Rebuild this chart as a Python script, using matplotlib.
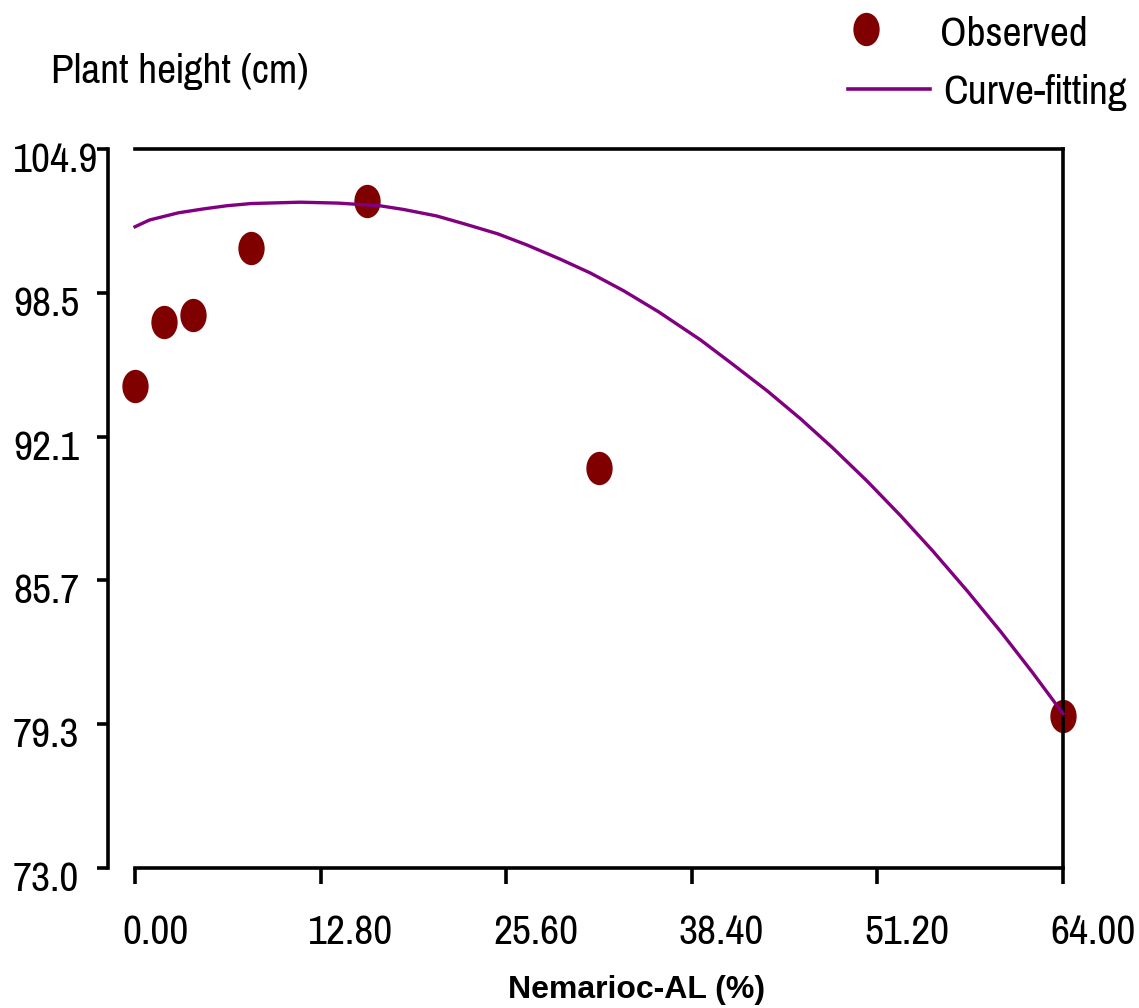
import matplotlib
matplotlib.use("Agg")
import matplotlib.pyplot as plt
import matplotlib.transforms as mtransforms
from matplotlib.path import Path
from matplotlib.lines import Line2D
import numpy as np

# observed plant height at each Nemarioc-AL concentration
conc = [0, 2, 4, 8, 16, 32, 64]
height = [94.37, 97.21, 97.52, 100.52, 102.58, 90.75, 79.73]

# fitted curve, read at a set of concentrations
fit_x = [0, 1.0, 3.0, 4.7, 6.3, 8.0, 11.4, 14.0, 16.9, 18.5, 20.8, 22.6, 25.0, 27.0,
         29.3, 31.4, 33.7, 36.1, 39.0, 41.2, 43.6, 45.9, 48.1, 50.5, 52.8, 55.0,
         57.4, 59.7, 61.9, 64.0]
fit_y = [101.45, 101.75, 102.07, 102.24, 102.38, 102.48, 102.54, 102.5, 102.38, 102.22,
         101.93, 101.6, 101.14, 100.65, 100.02, 99.4, 98.61, 97.68, 96.43, 95.36,
         94.17, 92.93, 91.65, 90.16, 88.63, 87.08, 85.29, 83.49, 81.67, 79.85]

xticks = [0.0, 12.8, 25.6, 38.4, 51.2, 64.0]
xtick_labels = ["0.00", "12.80", "25.60", "38.40", "51.20", "64.00"]
ytick_labels = ["73.0", "79.3", "85.7", "92.1", "98.5", "104.9"]
ymin, ymax = 73.0, 104.9

W, H = 1139, 1008
narrow = ["Arial Narrow", "Liberation Sans Narrow", "Pragati Narrow", "Archivo Narrow",
          "Roboto Condensed", "PT Sans Narrow", "DejaVu Sans"]
bold_font = ["Arial", "Liberation Sans", "Arimo", "DejaVu Sans"]
fs = 32.5
dot_color = "#800000"
line_color = "#800080"

fig = plt.figure(figsize=(W / 100, H / 100), dpi=100)
ax = fig.add_axes([135 / W, 1 - 868 / H, 928 / W, 719 / H])

# slightly tall elliptical dot
circ = Path.unit_circle()
ell = Path(circ.vertices * np.array([0.78, 1.0]), circ.codes)

ax.plot(conc, height, linestyle="none", marker=ell, markersize=23,
        color=dot_color, clip_on=False, zorder=2)
ax.plot(fit_x, fit_y, color=line_color, lw=2.4, clip_on=False, zorder=3)

ax.set_xlim(0, 64)
ax.set_ylim(ymin, ymax)

for s in ax.spines.values():
    s.set_linewidth(2.6)
ax.spines["left"].set_position(("outward", 27 * 0.72))

ax.set_xticks(xticks)
ax.set_xticklabels([])
yt = np.linspace(ymin, ymax, len(ytick_labels))
ax.set_yticks(yt)
ax.set_yticklabels([])
ax.tick_params(axis="x", length=16 * 0.72, width=2.6, direction="out")
ax.tick_params(axis="y", length=11 * 0.72, width=2.6, direction="out")

# tick labels, left aligned
xtr = mtransforms.offset_copy(ax.get_xaxis_transform(), fig=fig, x=-13, y=-76, units="dots")
for v, lab in zip(xticks, xtick_labels):
    ax.text(v, 0, lab, transform=xtr, ha="left", va="baseline",
            fontsize=fs, family=narrow, clip_on=False)

ytr = mtransforms.offset_copy(ax.get_yaxis_transform(), fig=fig, x=0, y=-23, units="dots")
for v, lab in zip(yt, ytick_labels):
    ax.text((13 - 135) / 928, v, lab, transform=ytr, ha="left", va="baseline",
            fontsize=fs, family=narrow, clip_on=False)

fig.text(51 / W, 1 - 83 / H, "Plant height (cm)", ha="left", va="baseline",
         fontsize=fs, family=narrow)
fig.text(508 / W, 1 - 998 / H, "Nemarioc-AL (%)", ha="left", va="baseline",
         fontsize=23, fontweight="bold", family=bold_font)

# legend
fig.add_artist(Line2D([865.5 / W], [1 - 29 / H], transform=fig.transFigure,
                      linestyle="none", marker=ell, markersize=23, color=dot_color))
fig.add_artist(Line2D([848 / W, 930 / W], [1 - 88.7 / H] * 2, transform=fig.transFigure,
                      color=line_color, lw=2.6))
fig.text(940 / W, 1 - 46 / H, "Observed", ha="left", va="baseline", fontsize=fs, family=narrow)
fig.text(943 / W, 1 - 104 / H, "Curve-fitting", ha="left", va="baseline", fontsize=fs, family=narrow)

fig.savefig("out.png", dpi=100)
